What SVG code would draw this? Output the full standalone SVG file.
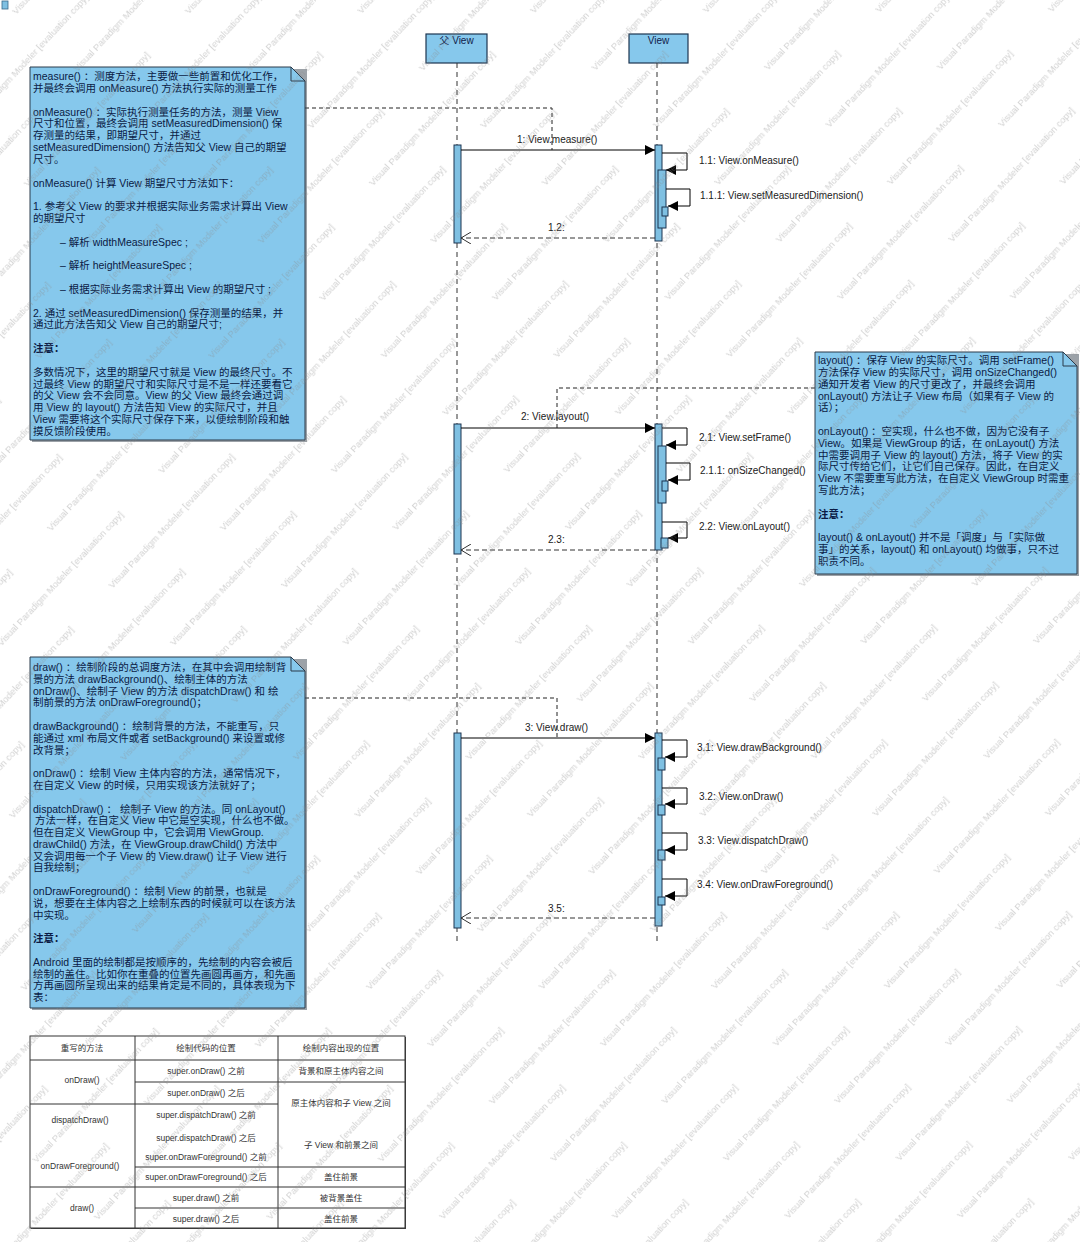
<svg xmlns="http://www.w3.org/2000/svg" width="1080" height="1242" viewBox="0 0 1080 1242">
<style>
.note{fill:#86c8ec;stroke:#2a3a4a;stroke-width:1}
.shadow{fill:#4a5560;opacity:.55}
.nt{font-family:"Liberation Sans","Noto Sans CJK SC",sans-serif;font-size:10.5px;fill:#0a1a44}
.b{font-weight:bold}
.head{fill:#86c8ec;stroke:#1d3550;stroke-width:1.2}
.ht{font-family:"Liberation Sans","Noto Sans CJK SC",sans-serif;font-size:10px;fill:#10204a;text-anchor:middle}
.life{stroke:#333;stroke-width:1;stroke-dasharray:5 4;fill:none}
.act{fill:#7fc0e2;stroke:#1d3550;stroke-width:1}
.msg{stroke:#000;stroke-width:1;fill:none}
.ret{stroke:#333;stroke-width:1;stroke-dasharray:5 3;fill:none}
.anc{stroke:#222;stroke-width:1;stroke-dasharray:4 3;fill:none}
.ml{font-family:"Liberation Sans","Noto Sans CJK SC",sans-serif;font-size:10px;fill:#1a1a1a}
.tb{stroke:#333;stroke-width:1;fill:none}
.tt{font-family:"Liberation Sans","Noto Sans CJK SC",sans-serif;font-size:8.5px;fill:#333;text-anchor:middle}
.wm{font-family:"Liberation Sans",sans-serif;font-size:9.5px;fill:#8a8a8a}
</style>
<defs>
<marker id="af" viewBox="0 0 10 10" refX="10" refY="5" markerWidth="11" markerHeight="10" markerUnits="userSpaceOnUse" orient="auto"><path d="M0,0 L10,5 L0,10 Z" fill="#000"/></marker>
<marker id="ao" viewBox="0 0 10 12" refX="10" refY="6" markerWidth="10" markerHeight="12" markerUnits="userSpaceOnUse" orient="auto"><path d="M0,0 L10,6 L0,12" fill="none" stroke="#333" stroke-width="1"/></marker>
<pattern id="wmp" patternUnits="userSpaceOnUse" width="236" height="84" patternTransform="rotate(-47)">
<text class="wm" x="0" y="22">Visual Paradigm Modeler [evaluation copy]</text>
<text class="wm" x="118" y="64">Visual Paradigm Modeler [evaluation copy]</text>
<text class="wm" x="-118" y="64">Visual Paradigm Modeler [evaluation copy]</text>
</pattern>
</defs>
<rect x="0" y="0" width="1080" height="1242" fill="#fff"/>
<rect x="2" y="1" width="6" height="8" fill="#7fc0e2" stroke="#3a6a8a" stroke-width="0.8"/>

<g id="lifeline-parent">
<rect class="head" x="426" y="34" width="61" height="29"/>
<text class="ht" x="456.5" y="44">父 View</text>
<line class="life" x1="457" y1="63" x2="457" y2="942"/>
</g>
<g id="lifeline-view">
<rect class="head" x="629" y="34" width="59" height="29"/>
<text class="ht" x="658.5" y="44">View</text>
<line class="life" x1="657" y1="63" x2="657" y2="942"/>
</g>

<g id="activations">
<rect class="act" x="454" y="145" width="7" height="98"/>
<rect class="act" x="655" y="145" width="7" height="96"/>
<rect class="act" x="658" y="170" width="8" height="58"/>
<rect class="act" x="662" y="207" width="6" height="9"/>
<rect class="act" x="454" y="424" width="7" height="130"/>
<rect class="act" x="655" y="424" width="7" height="126"/>
<rect class="act" x="658" y="446" width="8" height="57"/>
<rect class="act" x="662" y="481" width="6" height="10"/>
<rect class="act" x="661" y="538" width="7" height="10"/>
<rect class="act" x="454" y="733" width="7" height="195"/>
<rect class="act" x="655" y="733" width="7" height="193"/>
<rect class="act" x="658" y="758" width="7" height="12"/>
<rect class="act" x="658" y="805" width="7" height="10"/>
<rect class="act" x="658" y="850" width="7" height="10"/>
<rect class="act" x="658" y="897" width="7" height="8"/>
</g>

<g id="connectors">
<line class="msg" x1="461" y1="150" x2="655" y2="150" marker-end="url(#af)"/>
<text class="ml" x="517" y="143">1: View.measure()</text>
<path class="msg" d="M662,153 H687 V170 H666" marker-end="url(#af)"/>
<text class="ml" x="699" y="164">1.1: View.onMeasure()</text>
<path class="msg" d="M666,189 H690 V206 H668" marker-end="url(#af)"/>
<text class="ml" x="700" y="199">1.1.1: View.setMeasuredDimension()</text>
<line class="ret" x1="655" y1="238" x2="461" y2="238" marker-end="url(#ao)"/>
<text class="ml" x="548" y="231">1.2:</text>

<line class="msg" x1="461" y1="428" x2="655" y2="428" marker-end="url(#af)"/>
<text class="ml" x="521" y="420">2: View.layout()</text>
<path class="msg" d="M662,428 H687 V445 H666" marker-end="url(#af)"/>
<text class="ml" x="699" y="441">2.1: View.setFrame()</text>
<path class="msg" d="M666,463 H690 V480 H668" marker-end="url(#af)"/>
<text class="ml" x="700" y="474">2.1.1: onSizeChanged()</text>
<path class="msg" d="M662,522 H687 V538 H668" marker-end="url(#af)"/>
<text class="ml" x="699" y="530">2.2: View.onLayout()</text>
<line class="ret" x1="655" y1="550" x2="461" y2="550" marker-end="url(#ao)"/>
<text class="ml" x="548" y="543">2.3:</text>

<line class="msg" x1="461" y1="738" x2="655" y2="738" marker-end="url(#af)"/>
<text class="ml" x="525" y="731">3: View.draw()</text>
<path class="msg" d="M662,740 H687 V757 H665" marker-end="url(#af)"/>
<text class="ml" x="697" y="751">3.1: View.drawBackground()</text>
<path class="msg" d="M662,788 H687 V804 H665" marker-end="url(#af)"/>
<text class="ml" x="699" y="800">3.2: View.onDraw()</text>
<path class="msg" d="M662,833 H687 V850 H665" marker-end="url(#af)"/>
<text class="ml" x="698" y="844">3.3: View.dispatchDraw()</text>
<path class="msg" d="M662,879 H687 V896 H665" marker-end="url(#af)"/>
<text class="ml" x="697" y="888">3.4: View.onDrawForeground()</text>
<line class="ret" x1="655" y1="918" x2="461" y2="918" marker-end="url(#ao)"/>
<text class="ml" x="548" y="912">3.5:</text>

<path class="anc" d="M305,108 H552 V150"/>
<path class="anc" d="M815,388 H557 V428"/>
<path class="anc" d="M305,698 H557 V738"/>
</g>

<g id="note-measure">
<rect class="shadow" x="32" y="69" width="275" height="373"/>
<path class="note" d="M30,67 H291 L305,81 V440 H30 Z"/>
<path d="M291,67 V81 H305" fill="none" stroke="#2a3a4a" stroke-width="1"/>
<text class="nt" x="33" y="80">measure() ：测度方法，主要做一些前置和优化工作，</text>
<text class="nt" x="33" y="91.8">并最终会调用 onMeasure() 方法执行实际的测量工作</text>
<text class="nt" x="33" y="115.5">onMeasure() ：实际执行测量任务的方法，测量 View</text>
<text class="nt" x="33" y="127.3">尺寸和位置，最终会调用 setMeasuredDimension() 保</text>
<text class="nt" x="33" y="139.1">存测量的结果，即期望尺寸，并通过</text>
<text class="nt" x="33" y="151">setMeasuredDimension() 方法告知父 View 自己的期望</text>
<text class="nt" x="33" y="162.8">尺寸。</text>
<text class="nt" x="33" y="186.5">onMeasure() 计算 View 期望尺寸方法如下：</text>
<text class="nt" x="33" y="210.1">1. 参考父 View 的要求并根据实际业务需求计算出 View</text>
<text class="nt" x="33" y="222">的期望尺寸</text>
<text class="nt" x="60" y="245.6">– 解析 widthMeasureSpec ;</text>
<text class="nt" x="60" y="269.3">– 解析 heightMeasureSpec ;</text>
<text class="nt" x="60" y="292.9">– 根据实际业务需求计算出 View 的期望尺寸 ;</text>
<text class="nt" x="33" y="316.6">2. 通过 setMeasuredDimension() 保存测量的结果，并</text>
<text class="nt" x="33" y="328.4">通过此方法告知父 View 自己的期望尺寸;</text>
<text class="nt b" x="33" y="352.1">注意：</text>
<text class="nt" x="33" y="375.7">多数情况下，这里的期望尺寸就是 View 的最终尺寸。不</text>
<text class="nt" x="33" y="387.5">过最终 View 的期望尺寸和实际尺寸是不是一样还要看它</text>
<text class="nt" x="33" y="399.4">的父 View 会不会同意。View 的父 View 最终会通过调</text>
<text class="nt" x="33" y="411.2">用 View 的 layout() 方法告知 View 的实际尺寸，并且</text>
<text class="nt" x="33" y="423">View 需要将这个实际尺寸保存下来，以便绘制阶段和触</text>
<text class="nt" x="33" y="434.9">摸反馈阶段使用。</text>
</g>

<g id="note-layout">
<rect class="shadow" x="817" y="354" width="262" height="222"/>
<path class="note" d="M815,352 H1063 L1077,366 V574 H815 Z"/>
<path d="M1063,352 V366 H1077" fill="none" stroke="#2a3a4a" stroke-width="1"/>
<text class="nt" x="818" y="364">layout() ：保存 View 的实际尺寸。调用 setFrame()</text>
<text class="nt" x="818" y="375.8">方法保存 View 的实际尺寸，调用 onSizeChanged()</text>
<text class="nt" x="818" y="387.6">通知开发者 View 的尺寸更改了，并最终会调用</text>
<text class="nt" x="818" y="399.5">onLayout() 方法让子 View 布局（如果有子 View 的</text>
<text class="nt" x="818" y="411.3">话）；</text>
<text class="nt" x="818" y="434.9">onLayout() ：空实现，什么也不做，因为它没有子</text>
<text class="nt" x="818" y="446.7">View。如果是 ViewGroup 的话，在 onLayout() 方法</text>
<text class="nt" x="818" y="458.5">中需要调用子 View 的 layout() 方法，将子 View 的实</text>
<text class="nt" x="818" y="470.4">际尺寸传给它们，让它们自己保存。因此，在自定义</text>
<text class="nt" x="818" y="482.2">View 不需要重写此方法，在自定义 ViewGroup 时需重</text>
<text class="nt" x="818" y="494">写此方法；</text>
<text class="nt b" x="818" y="517.6">注意：</text>
<text class="nt" x="818" y="541.3">layout() &amp; onLayout() 并不是「调度」与「实际做</text>
<text class="nt" x="818" y="553.1">事」的关系，layout() 和 onLayout() 均做事，只不过</text>
<text class="nt" x="818" y="564.9">职责不同。</text>
</g>

<g id="note-draw">
<rect class="shadow" x="32" y="659" width="275" height="351"/>
<path class="note" d="M30,657 H291 L305,671 V1008 H30 Z"/>
<path d="M291,657 V671 H305" fill="none" stroke="#2a3a4a" stroke-width="1"/>
<text class="nt" x="33" y="671">draw() ：绘制阶段的总调度方法，在其中会调用绘制背</text>
<text class="nt" x="33" y="682.8">景的方法 drawBackground()、绘制主体的方法</text>
<text class="nt" x="33" y="694.6">onDraw()、绘制子 View 的方法 dispatchDraw() 和 绘</text>
<text class="nt" x="33" y="706.4">制前景的方法 onDrawForeground()；</text>
<text class="nt" x="33" y="730">drawBackground() ：绘制背景的方法，不能重写，只</text>
<text class="nt" x="33" y="741.7">能通过 xml 布局文件或者 setBackground() 来设置或修</text>
<text class="nt" x="33" y="753.5">改背景；</text>
<text class="nt" x="33" y="777.1">onDraw() ：绘制 View 主体内容的方法，通常情况下，</text>
<text class="nt" x="33" y="788.9">在自定义 View 的时候，只用实现该方法就好了；</text>
<text class="nt" x="33" y="812.5">dispatchDraw() ： 绘制子 View 的方法。同 onLayout()</text>
<text class="nt" x="35" y="824.3">方法一样，在自定义 View 中它是空实现，什么也不做。</text>
<text class="nt" x="33" y="836.1">但在自定义 ViewGroup 中，它会调用 ViewGroup.</text>
<text class="nt" x="33" y="847.9">drawChild() 方法，在 ViewGroup.drawChild() 方法中</text>
<text class="nt" x="33" y="859.7">又会调用每一个子 View 的 View.draw() 让子 View 进行</text>
<text class="nt" x="33" y="871.4">自我绘制；</text>
<text class="nt" x="33" y="895">onDrawForeground() ：绘制 View 的前景，也就是</text>
<text class="nt" x="33" y="906.8">说，想要在主体内容之上绘制东西的时候就可以在该方法</text>
<text class="nt" x="33" y="918.6">中实现。</text>
<text class="nt b" x="33" y="942.2">注意：</text>
<text class="nt" x="33" y="965.8">Android 里面的绘制都是按顺序的，先绘制的内容会被后</text>
<text class="nt" x="33" y="977.6">绘制的盖住。比如你在重叠的位置先画圆再画方，和先画</text>
<text class="nt" x="33" y="989.4">方再画圆所呈现出来的结果肯定是不同的，具体表现为下</text>
<text class="nt" x="33" y="1001.1">表：</text>
</g>

<g id="table">
<rect x="31" y="1037" width="375" height="192" fill="#444"/>
<rect x="30" y="1036" width="375" height="192" fill="#fff" stroke="#333" stroke-width="1"/>
<line class="tb" x1="30" y1="1060" x2="405" y2="1060"/>
<line class="tb" x1="135" y1="1036" x2="135" y2="1228"/>
<line class="tb" x1="278" y1="1036" x2="278" y2="1228"/>
<line class="tb" x1="135" y1="1082" x2="405" y2="1082"/>
<line class="tb" x1="30" y1="1104" x2="278" y2="1104"/>
<line class="tb" x1="135" y1="1167" x2="405" y2="1167"/>
<line class="tb" x1="30" y1="1187" x2="405" y2="1187"/>
<line class="tb" x1="135" y1="1208" x2="405" y2="1208"/>
<text class="tt" x="82" y="1051">重写的方法</text>
<text class="tt" x="206" y="1051">绘制代码的位置</text>
<text class="tt" x="341" y="1051">绘制内容出现的位置</text>
<text class="tt" x="82" y="1083">onDraw()</text>
<text class="tt" x="206" y="1074">super.onDraw() 之前</text>
<text class="tt" x="206" y="1096">super.onDraw() 之后</text>
<text class="tt" x="341" y="1074">背景和原主体内容之间</text>
<text class="tt" x="341" y="1106">原主体内容和子 View 之间</text>
<text class="tt" x="80" y="1123">dispatchDraw()</text>
<text class="tt" x="206" y="1118">super.dispatchDraw() 之前</text>
<text class="tt" x="206" y="1141">super.dispatchDraw() 之后</text>
<text class="tt" x="341" y="1148">子 View 和前景之间</text>
<text class="tt" x="80" y="1169">onDrawForeground()</text>
<text class="tt" x="206" y="1160">super.onDrawForeground() 之前</text>
<text class="tt" x="206" y="1180">super.onDrawForeground() 之后</text>
<text class="tt" x="341" y="1180">盖住前景</text>
<text class="tt" x="82" y="1211">draw()</text>
<text class="tt" x="206" y="1201">super.draw() 之前</text>
<text class="tt" x="341" y="1201">被背景盖住</text>
<text class="tt" x="206" y="1222">super.draw() 之后</text>
<text class="tt" x="341" y="1222">盖住前景</text>
</g>

<rect id="watermark" x="0" y="0" width="1080" height="1242" fill="url(#wmp)" opacity="0.4"/>
</svg>
